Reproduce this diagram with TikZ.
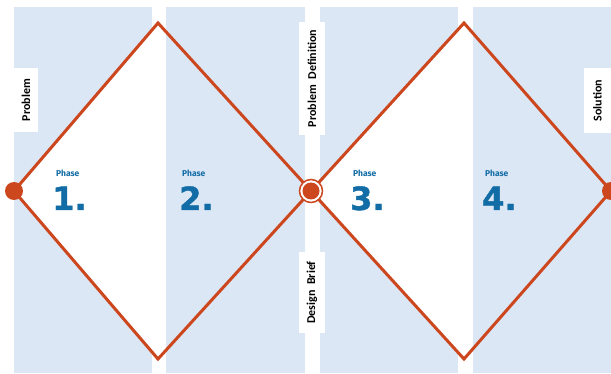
\documentclass[tikz,border=0pt]{standalone}
\usepackage{fontspec}
\setmainfont{Carlito}
\newfontfamily\phasefont{Fira Sans}
\newfontfamily\numfont[BoldFeatures={FakeBold=1.2}]{DejaVu Sans}
\definecolor{colblue}{RGB}{220,231,246}
\definecolor{diamred}{RGB}{204,70,30}
\definecolor{phaseblue}{RGB}{18,108,165}
\begin{document}
\begin{tikzpicture}[x=1pt,y=-1pt,
  column/.style={fill=colblue,draw=none},
  edge/.style={draw=diamred,line width=3pt,line join=miter},
  stagelabel/.style={fill=white,rotate=90,inner sep=0pt,font=\bfseries\fontsize{12}{14}\selectfont},
  phaseword/.style={text=phaseblue,inner sep=0pt,anchor=base west,font=\phasefont\bfseries\fontsize{8.5}{9}\selectfont},
  phasenum/.style={text=phaseblue,inner sep=0pt,anchor=base west,font=\numfont\bfseries\fontsize{32}{34}\selectfont},
  dot/.style={circle,fill=diamred,inner sep=0pt,minimum size=18pt}]
\useasboundingbox (0,0) rectangle (611,374);
\fill[white] (0,0) rectangle (611,374);
% columns
\fill[column] (14,7) rectangle (152,373);
\fill[column] (166,7) rectangle (305,373);
\fill[column] (320,7) rectangle (458,373);
\fill[column] (473,7) rectangle (611,373);
% diamond vertices
\coordinate (L) at (14,191);
\coordinate (T1) at (158,23);
\coordinate (B1) at (158,359);
\coordinate (M) at (311,191);
\coordinate (T2) at (464,23);
\coordinate (B2) at (464,359);
\coordinate (R) at (611,191);
% white halves
\fill[white] (L) -- (T1) -- (B1) -- cycle;
\fill[white] (M) -- (T2) -- (B2) -- cycle;
% diamonds
\draw[edge] (L) -- (T1) -- (M) -- (B1) -- cycle;
\draw[edge] (M) -- (T2) -- (R) -- (B2) -- cycle;
% labels
\node[stagelabel,minimum width=64pt,minimum height=24pt] (lprob) at (26,100) {Problem};
\node[stagelabel,minimum width=113pt,minimum height=26pt] (ldef) at (312,78.5) {Problem\ \ Definition};
\node[stagelabel,minimum width=81pt,minimum height=26pt] (lbrief) at (312,292.5) {Design\ \ Brief};
\node[stagelabel,minimum width=65pt,minimum height=27pt] (lsol) at (597.5,100.5) {Solution};
% phases
\node[phaseword] (p1w) at (56,177) {Phase};
\node[phasenum] (p1n) at (52,210) {1.};
\node[phaseword] (p2w) at (182,177) {Phase};
\node[phasenum] (p2n) at (179,210) {2.};
\node[phaseword] (p3w) at (353,177) {Phase};
\node[phasenum] (p3n) at (350,210) {3.};
\node[phaseword] (p4w) at (485,177) {Phase};
\node[phasenum] (p4n) at (482,210) {4.};
% dots
\node[dot] (dl) at (L) {};
\node[circle,draw=diamred,fill=white,line width=1.5pt,inner sep=0pt,minimum size=23pt] (dmring) at (M) {};
\node[circle,fill=diamred,inner sep=0pt,minimum size=17pt] (dm) at (M) {};
\node[dot] (dr) at (R) {};
\end{tikzpicture}
\end{document}
